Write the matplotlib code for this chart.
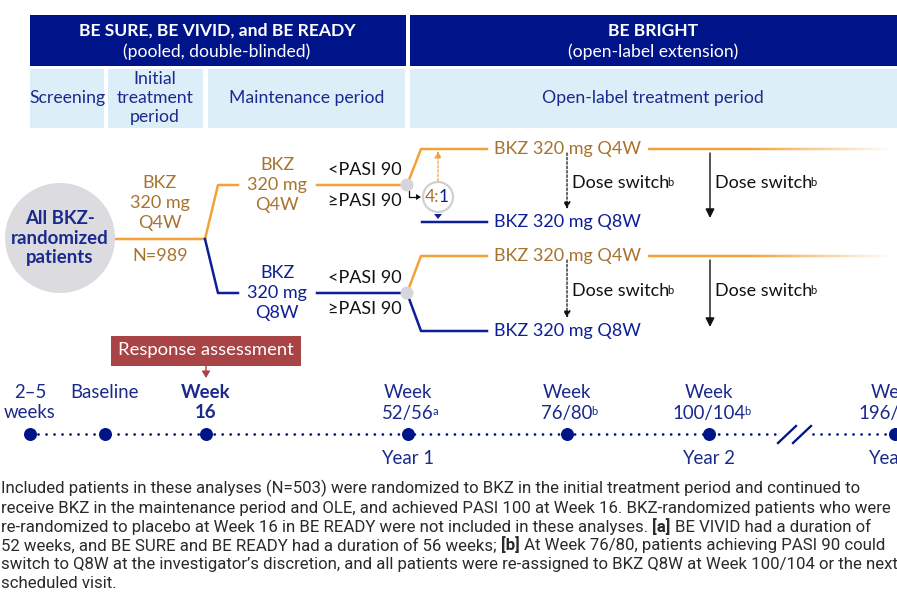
import matplotlib
matplotlib.use('Agg')
import matplotlib.pyplot as plt
from matplotlib.patches import Rectangle, Circle, Polygon
from matplotlib.collections import LineCollection
from matplotlib import font_manager
from matplotlib.colors import to_rgba
import numpy as np

# ---------------- data (texts) ----------------
header_main = ["BE SURE, BE VIVID, and BE READY", "BE BRIGHT"]
header_sub = ["(pooled, double-blinded)", "(open-label extension)"]
period_labels = [["Screening"], ["Initial", "treatment", "period"], ["Maintenance period"],
                 ["Open-label treatment period"]]
circle_label = ["All BKZ-", "randomized", "patients"]
initial_arm = ["BKZ", "320 mg", "Q4W"]
initial_n = "N=989"
maint_arms = [["BKZ", "320 mg", "Q4W"], ["BKZ", "320 mg", "Q8W"]]
response_labels = ["<PASI 90", "\u2265PASI 90"]
ole_arms = ["BKZ 320 mg Q4W", "BKZ 320 mg Q8W"]
ratio_parts = ["4:", "1"]
switch_label = "Dose switch"
switch_sup = "b"
assessment_label = "Response assessment"
timeline_top = ["2\u20135", "Baseline", "Week", "Week", "Week", "Week", "Week"]
timeline_bottom = ["weeks", "", "16", "52/56", "76/80", "100/104", "196/200"]
timeline_sup = ["", "", "", "a", "b", "b", ""]
timeline_bold = [False, False, True, False, False, False, False]
year_labels = ["", "", "", "Year 1", "", "Year 2", "Year 4"]
footnote_lines = [
    [("Included patients in these analyses (N=503) were randomized to BKZ in the initial treatment period and continued to", False)],
    [("receive BKZ in the maintenance period and OLE, and achieved PASI 100 at Week 16. BKZ-randomized patients who were", False)],
    [("re-randomized to placebo at Week 16 in BE READY were not included in these analyses.", False), ("[a]", True),
     ("BE VIVID had a duration of", False)],
    [("52 weeks, and BE SURE and BE READY had a duration of 56 weeks;", False), ("[b]", True),
     ("At Week 76/80, patients achieving PASI 90 could", False)],
    [("switch to Q8W at the investigator\u2019s discretion, and all patients were re-assigned to BKZ Q8W at Week 100/104 or the next", False)],
    [("scheduled visit.", False)],
]

# ---------------- layout / style ----------------
W, H = 897, 594
NAVY = '#001489'
LIGHT = '#DCEEF8'
BLUE = '#0D1F96'
TXT_BLUE = '#1A2A8C'
ORANGE = '#F3A23A'
BROWN = '#A8732E'
GRAY = '#DCDCE0'
RED = '#A84446'
FOOT = '#2A2A2A'
DARK = '#111111'
MAIN = ['Lato', 'DejaVu Sans']
names = {f.name for f in font_manager.fontManager.ttflist}
FOOT_FAM = ['Liberation Sans Narrow', 'DejaVu Sans'] if 'Liberation Sans Narrow' in names else ['Roboto', 'DejaVu Sans']

fig = plt.figure(figsize=(W / 100, H / 100), dpi=100)
ax = fig.add_axes([0, 0, 1, 1])
ax.set_xlim(0, W)
ax.set_ylim(H, 0)
ax.axis('off')

PX = 0.72  # points per pixel


def txt(x, y, s, size=13, color=TXT_BLUE, bold=False, ha='center', va='center', fam=None, **kw):
    return ax.text(x, y, s, fontsize=size, color=color, ha=ha, va=va,
                   fontweight='bold' if bold else 'normal',
                   family=fam or MAIN, **kw)


def lines(x, yc, items, gap, **kw):
    n = len(items)
    for i, s in enumerate(items):
        txt(x, yc + (i - (n - 1) / 2) * gap, s, **kw)


def sup_after(artist, s, color, size=8):
    ax.annotate(s, xy=(1, 1), xycoords=artist, xytext=(-1.2, -0.8), textcoords='offset points',
                ha='left', va='top', fontsize=size, color=color, family=MAIN)


# ---------------- header ----------------
ax.add_patch(Rectangle((30, 15), 376, 51, color=NAVY, lw=0))
ax.add_patch(Rectangle((410, 15), 500, 51, color=NAVY, lw=0))
txt(217, 31, header_main[0], size=12.6, color='white', bold=True)
txt(217, 52, header_sub[0], size=12.6, color='white')
txt(653, 31, header_main[1], size=12.6, color='white', bold=True)
txt(653, 52, header_sub[1], size=12.6, color='white')

boxes = [(30, 104), (108, 203), (208, 405), (410, 910)]
centers = [67, 155, 307, 653]
for (x0, x1), cx, lab in zip(boxes, centers, period_labels):
    ax.add_patch(Rectangle((x0, 69), x1 - x0, 59, color=LIGHT, lw=0))
    lines(cx, 98, lab, 19, size=12.7, color=TXT_BLUE)

# ---------------- left part ----------------
LW = 2.5 * PX
ax.add_patch(Circle((60, 238), 55, color=GRAY, lw=0))
lines(60, 238, circle_label, 20, size=13.4, color=TXT_BLUE, bold=True)
ax.plot([115, 205], [239, 239], color=ORANGE, lw=LW, solid_capstyle='butt')
lines(160, 203, initial_arm, 20, size=13, color=BROWN)
txt(160, 256, initial_n, size=13, color=BROWN)

# branches into maintenance
ax.plot([205, 218, 238], [239, 185, 185], color=ORANGE, lw=LW)
ax.plot([205, 218, 238], [239, 293, 293], color=BLUE, lw=LW)
ax.plot([317, 407], [185, 185], color=ORANGE, lw=LW)
ax.plot([317, 407], [293, 293], color=BLUE, lw=LW)
lines(277, 185, maint_arms[0], 20, size=13, color=BROWN)
lines(277, 293, maint_arms[1], 20, size=13, color=BLUE)
for yc in (185, 293):
    txt(365, yc - 15, response_labels[0], size=13, color=DARK)
    txt(365, yc + 16, response_labels[1], size=13, color=DARK)

# ---------------- OLE arms ----------------
q4w_y = [149, 256]
q8w_y = [222, 331]
dot_y = [185, 293]
for k in range(2):
    ax.plot([407, 421, 487], [dot_y[k], q4w_y[k], q4w_y[k]], color=ORANGE, lw=LW, zorder=2)
    if k == 0:
        ax.plot([422, 487], [q8w_y[k], q8w_y[k]], color=BLUE, lw=LW, zorder=2)
    else:
        ax.plot([407, 421, 487], [dot_y[k], q8w_y[k], q8w_y[k]], color=BLUE, lw=LW, zorder=2)
    ax.add_patch(Circle((407, dot_y[k]), 6.5, color='#D5D5DA', lw=0, zorder=3))
    txt(567, q4w_y[k], ole_arms[0], size=13, color=BROWN)
    txt(567, q8w_y[k], ole_arms[1], size=13, color=BLUE)
    # fading orange line
    xs = np.linspace(648, 893, 250)
    alpha = np.clip((893 - xs) / (893 - 750), 0, 1)
    segs = [[(xs[i], q4w_y[k]), (xs[i + 1], q4w_y[k])] for i in range(len(xs) - 1)]
    cols = [to_rgba(ORANGE, a) for a in alpha[:-1]]
    ax.add_collection(LineCollection(segs, colors=cols, linewidths=LW, capstyle='butt'))
    # blue arrow
    ax.annotate('', xy=(898, q8w_y[k]), xytext=(648, q8w_y[k]),
                arrowprops=dict(arrowstyle='-|>,head_length=0.9,head_width=0.4', color=BLUE,
                                lw=LW, mutation_scale=11, shrinkA=0, shrinkB=0))
    # dose switch arrows
    ysw = (q4w_y[k] + q8w_y[k]) / 2 - 2
    ax.annotate('', xy=(567, q8w_y[k] - 13), xytext=(567, q4w_y[k] + 4),
                arrowprops=dict(arrowstyle='-|>,head_length=0.5,head_width=0.25', color=DARK,
                                lw=0.9, ls=(0, (2, 1.5)), mutation_scale=8, shrinkA=0, shrinkB=0))
    ax.annotate('', xy=(710, q8w_y[k] - 4), xytext=(710, q4w_y[k] + 4),
                arrowprops=dict(arrowstyle='-|>,head_length=0.6,head_width=0.3', color=DARK,
                                lw=1.0, mutation_scale=9, shrinkA=0, shrinkB=0))
    t1 = txt(572, ysw, switch_label, size=13, color=DARK, ha='left')
    sup_after(t1, switch_sup, DARK)
    t2 = txt(715, ysw, switch_label, size=13, color=DARK, ha='left')
    sup_after(t2, switch_sup, DARK)

# 4:1 randomisation symbol
ax.add_patch(Circle((438, 197), 15, facecolor='white', edgecolor='#D0D0D0', lw=1.6, zorder=3))
txt(439, 197, ratio_parts[0], size=12.5, color=BROWN, ha='right', zorder=4)
txt(439, 197, ratio_parts[1], size=12.5, color=BLUE, ha='left', zorder=4)
ax.annotate('', xy=(438, 151), xytext=(438, 181),
            arrowprops=dict(arrowstyle='-|>,head_length=0.5,head_width=0.25', color=ORANGE,
                            lw=0.9, ls=(0, (2, 1.5)), mutation_scale=8, shrinkA=0, shrinkB=0))
ax.add_patch(Polygon([[434, 214], [442, 214], [438, 219]], closed=True, color=BLUE, lw=0))
ax.plot([409, 409, 416], [191, 197, 197], color=DARK, lw=0.9)
ax.add_patch(Polygon([[416, 194], [416, 200], [421, 197]], closed=True, color=DARK, lw=0))

# ---------------- response assessment ----------------
ax.add_patch(Rectangle((111, 336), 190, 30, color=RED, lw=0))
txt(206, 350, assessment_label, size=13.3, color='white')
ax.annotate('', xy=(206, 378), xytext=(206, 366),
            arrowprops=dict(arrowstyle='-|>,head_length=0.5,head_width=0.3', color=RED,
                            lw=1.0, mutation_scale=8, shrinkA=0, shrinkB=0))

# ---------------- timeline ----------------
TY = 434
tick_x = [30, 105, 206, 408, 567, 709, 895]
dot_style = dict(color=NAVY, lw=2.8 * PX, linestyle=(0, (0.01, 2.85)), dash_capstyle='round')
ax.plot([30, 777], [TY, TY], **dot_style)
ax.plot([813, 900], [TY, TY], **dot_style)
ax.plot([778, 796], [443, 426], color=NAVY, lw=2.3 * PX)
ax.plot([793, 811], [443, 426], color=NAVY, lw=2.3 * PX)
ax.scatter(tick_x, [TY] * len(tick_x), s=(13 * PX) ** 2, color=NAVY, zorder=5, lw=0)
for x, top, bot, sp, bd, yr in zip(tick_x, timeline_top, timeline_bottom, timeline_sup,
                                   timeline_bold, year_labels):
    txt(x, 392, top, size=13.4, color=TXT_BLUE, bold=bd)
    if bot:
        tb = txt(x, 413, bot, size=13.4, color=TXT_BLUE, bold=bd)
        if sp:
            sup_after(tb, sp, TXT_BLUE)
    if yr:
        txt(x, 458, yr, size=13.4, color=TXT_BLUE)

# ---------------- footnote ----------------
renderer = fig.canvas.get_renderer()
probe = ax.text(0, 0, footnote_lines[0][0][0], fontsize=12, family=FOOT_FAM)
wpx = probe.get_window_extent(renderer).width
probe.remove()
fsize = 12 * 857 / wpx
y0, dy = 489, 18.8
for i, pieces in enumerate(footnote_lines):
    y = y0 + i * dy
    prev = None
    for s, b in pieces:
        kw = dict(fontsize=fsize, color=FOOT, family=FOOT_FAM,
                  fontweight='bold' if b else 'normal', ha='left', va='bottom')
        if prev is None:
            prev = ax.text(1, y + 8, s, **kw)
        else:
            prev = ax.annotate(s, xy=(1, 0), xycoords=prev, xytext=(3, 0),
                               textcoords='offset points', **kw)

fig.savefig('out.png', dpi=100)
